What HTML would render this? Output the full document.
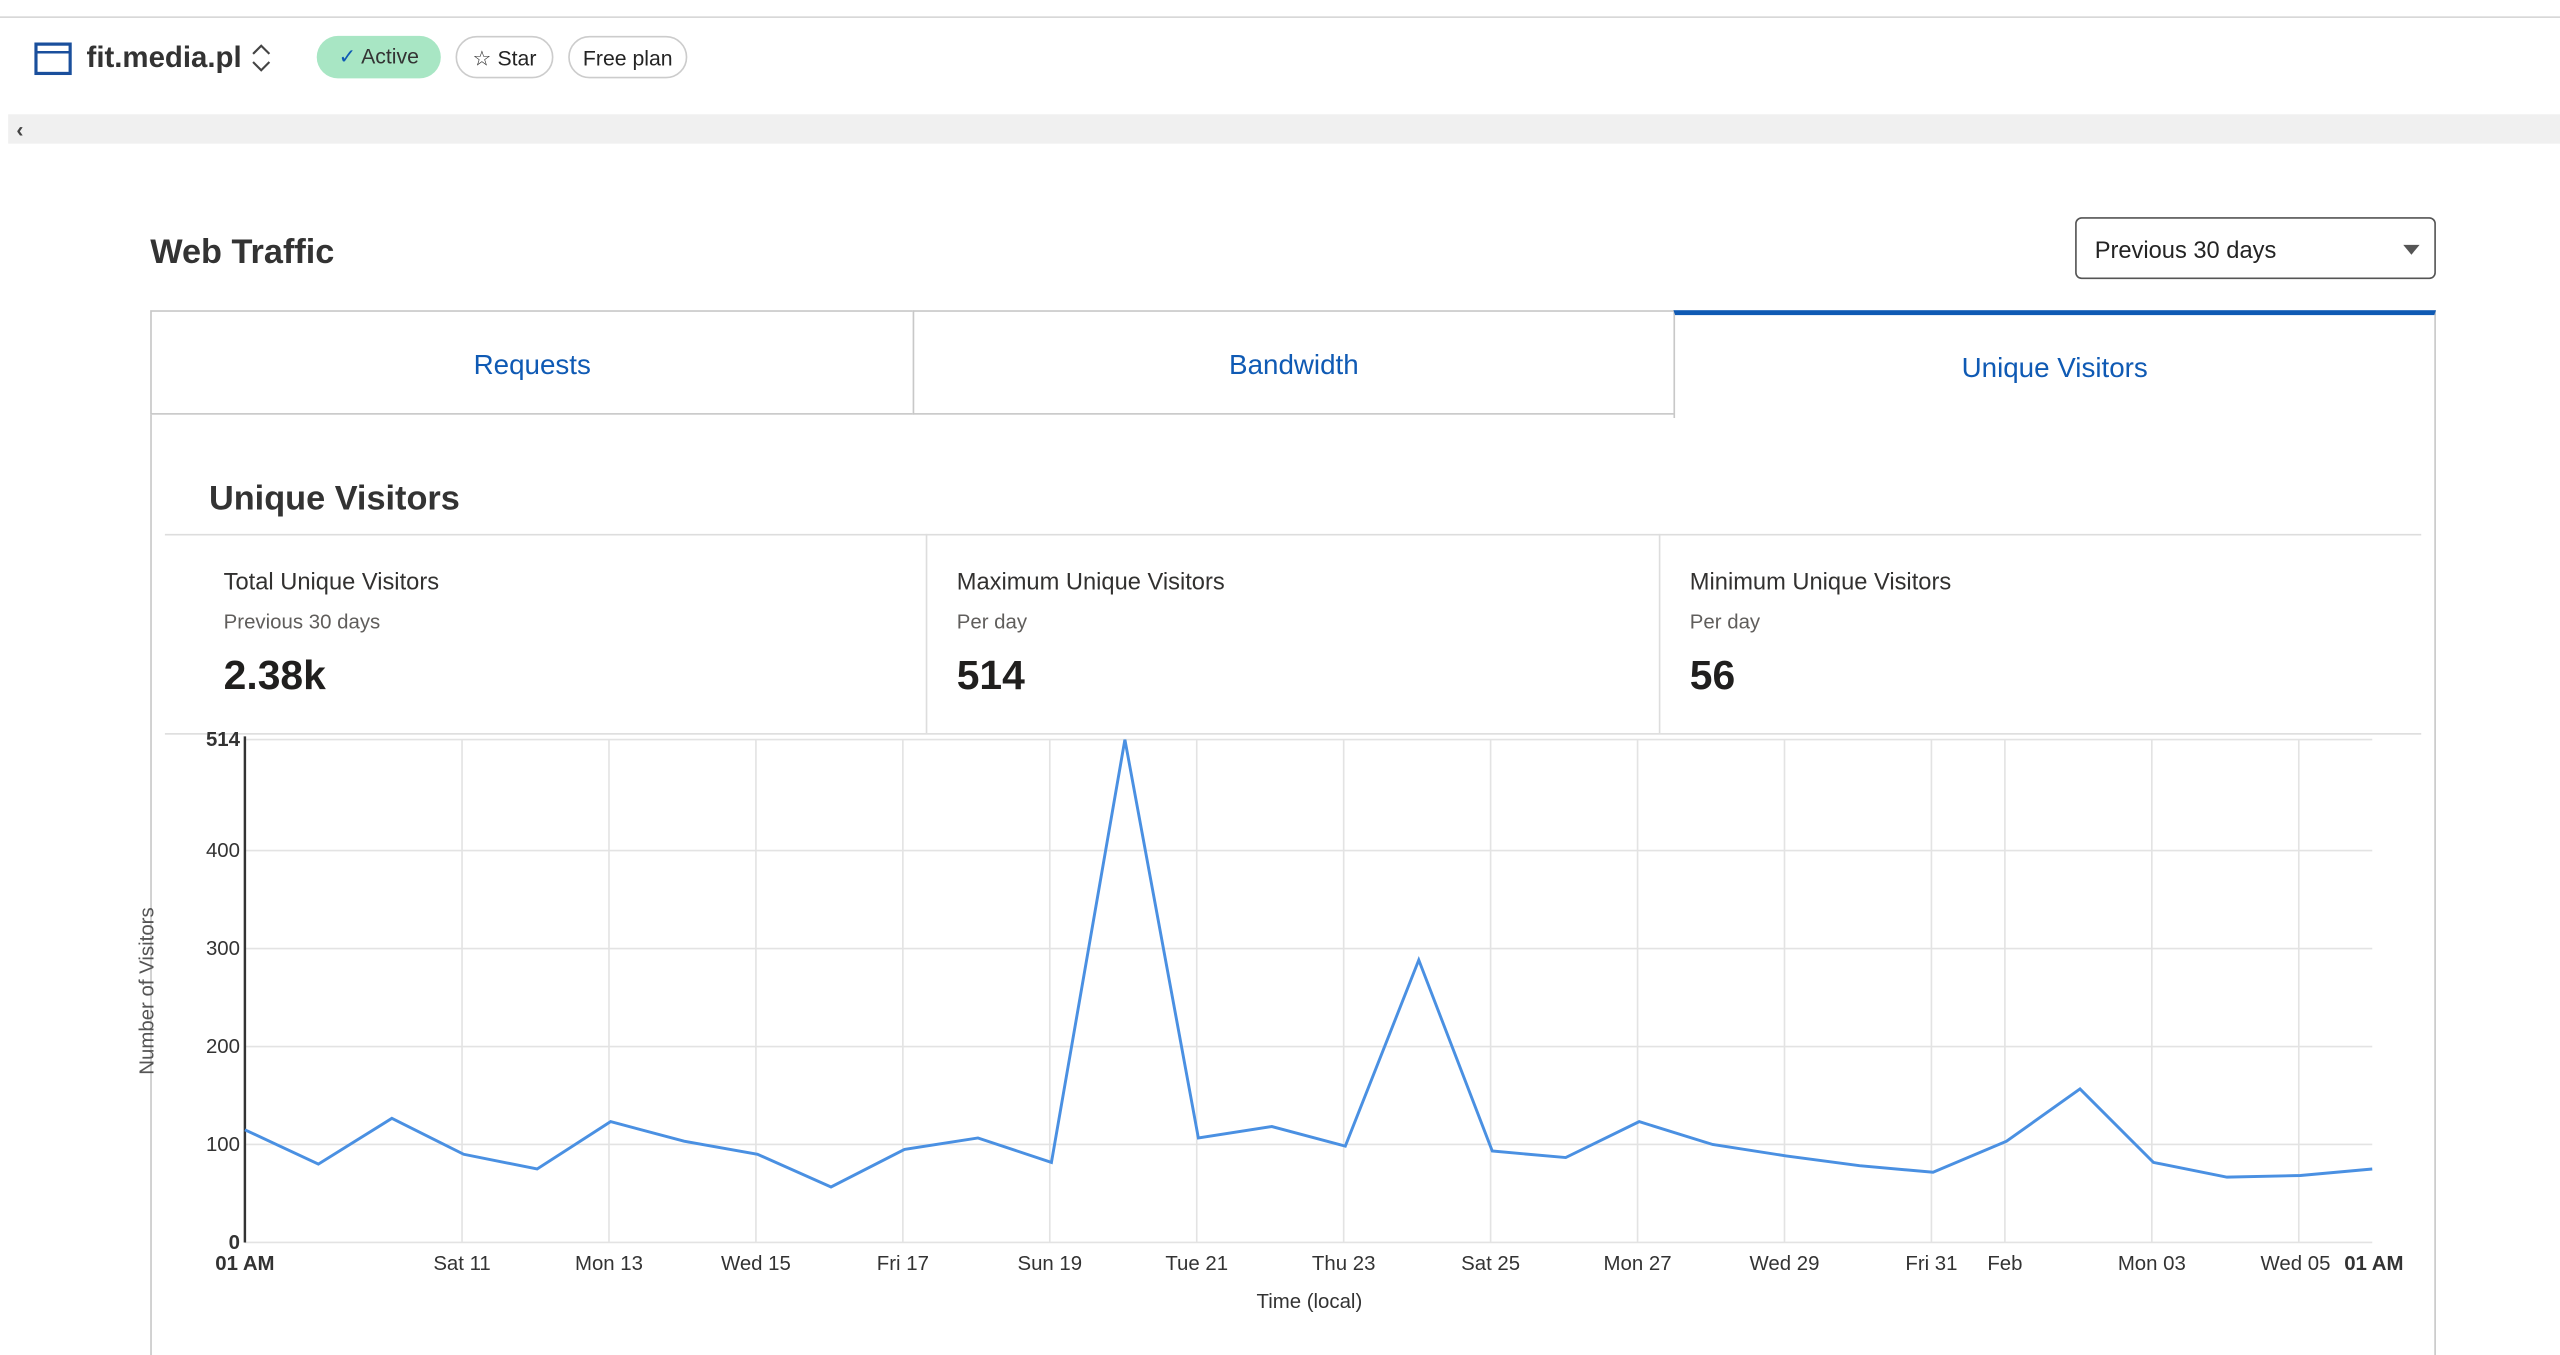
<!DOCTYPE html>
<html><head><meta charset="utf-8"><style>
html,body{margin:0;padding:0;background:#fff;overflow:hidden}
body{width:2560px;height:1327px}
#w{position:absolute;left:0;top:0;width:1568px;height:813px;transform:scale(1.63265);transform-origin:0 0;font-family:"Liberation Sans",sans-serif;color:#242424}
.a{position:absolute}
.pill{position:absolute;height:26px;border-radius:13px;font-size:13px;line-height:26px;text-align:center;box-sizing:border-box}
.tab{position:absolute;top:190px;height:64px;border:1px solid #c8c8c8;box-sizing:border-box;color:#0f5ab4;font-size:17px;text-align:center;line-height:66px;background:#fff}
.lab{font-size:14.5px;color:#323130}
.sub{font-size:12.5px;color:#605e5c}
.val{font-size:25px;font-weight:bold;color:#201f1e}
</style></head><body><div id="w">
<div class="a" style="left:0;top:10px;width:1568px;height:1px;background:#d6d6d6"></div>
<svg class="a" style="left:21px;top:26px" width="23" height="20"><rect x="1" y="1" width="21" height="18" fill="none" stroke="#1a4f9c" stroke-width="2"/><line x1="1" y1="6" x2="22" y2="6" stroke="#1a4f9c" stroke-width="1.5"/></svg>
<div class="a" style="left:53px;top:25px;font-size:18px;font-weight:bold;color:#333">fit.media.pl</div>
<svg class="a" style="left:153px;top:26px" width="14" height="19"><polyline points="2,7 7,2 12,7" fill="none" stroke="#444" stroke-width="1.3"/><polyline points="2,12 7,17 12,12" fill="none" stroke="#444" stroke-width="1.3"/></svg>
<div class="pill" style="left:194px;top:22px;width:76px;background:#a8e6c4;color:#333"><span style="color:#0f5ab4">✓</span> Active</div>
<div class="pill" style="left:279px;top:22px;width:60px;border:1px solid #ccc">☆ Star</div>
<div class="pill" style="left:348px;top:22px;width:73px;border:1px solid #ccc">Free plan</div>
<div class="a" style="left:5px;top:70px;width:1563px;height:18px;background:#f0f0f0"></div>
<div class="a" style="left:10px;top:72px;font-size:13px;font-weight:bold;color:#444">‹</div>
<div class="a" style="left:92px;top:143px;font-size:21px;font-weight:bold;color:#333">Web Traffic</div>
<div class="a" style="left:1271px;top:133px;width:221px;height:38px;border:1px solid #555;border-radius:4px;box-sizing:border-box"></div>
<div class="a" style="left:1283px;top:146px;font-size:14.5px">Previous 30 days</div>
<div class="a" style="left:1472px;top:150px;width:0;height:0;border-left:5px solid transparent;border-right:5px solid transparent;border-top:6px solid #555"></div>
<div class="a" style="left:92px;top:190px;width:1400px;height:640px;border-left:1px solid #c8c8c8;border-right:1px solid #c8c8c8;box-sizing:border-box"></div>
<div class="tab" style="left:92px;width:468px">Requests</div>
<div class="tab" style="left:559px;width:467px">Bandwidth</div>
<div class="tab" style="left:1025px;width:467px;border-top:3px solid #0f5ab4;border-bottom:none;line-height:66px;height:66px">Unique Visitors</div>
<div class="a" style="left:128px;top:294px;font-size:21px;font-weight:bold;color:#333">Unique Visitors</div>
<div class="a" style="left:101px;top:327px;width:1382px;height:1px;background:#ddd"></div>
<div class="a" style="left:101px;top:449px;width:1382px;height:1px;background:#ddd"></div>
<div class="a" style="left:567px;top:327px;width:1px;height:122px;background:#ddd"></div>
<div class="a" style="left:1016px;top:327px;width:1px;height:122px;background:#ddd"></div>
<div class="a lab" style="left:137px;top:349px">Total Unique Visitors</div>
<div class="a sub" style="left:137px;top:374px">Previous 30 days</div>
<div class="a val" style="left:137px;top:400px">2.38k</div>
<div class="a lab" style="left:586px;top:349px">Maximum Unique Visitors</div>
<div class="a sub" style="left:586px;top:374px">Per day</div>
<div class="a val" style="left:586px;top:400px">514</div>
<div class="a lab" style="left:1035px;top:349px">Minimum Unique Visitors</div>
<div class="a sub" style="left:1035px;top:374px">Per day</div>
<div class="a val" style="left:1035px;top:400px">56</div>
<svg class="a" style="left:0;top:0" width="1568" height="813" font-family="Liberation Sans, sans-serif" font-size="12.5" fill="#333">
<g stroke="#e3e3e3" stroke-width="1">
<line x1="150" y1="701" x2="1453" y2="701"/><line x1="150" y1="641" x2="1453" y2="641"/><line x1="150" y1="581" x2="1453" y2="581"/><line x1="150" y1="521" x2="1453" y2="521"/><line x1="150" y1="453" x2="1453" y2="453"/><line x1="150" y1="761" x2="1453" y2="761"/>
<line x1="283" y1="453" x2="283" y2="761"/><line x1="373" y1="453" x2="373" y2="761"/><line x1="463" y1="453" x2="463" y2="761"/><line x1="553" y1="453" x2="553" y2="761"/><line x1="643" y1="453" x2="643" y2="761"/><line x1="733" y1="453" x2="733" y2="761"/><line x1="823" y1="453" x2="823" y2="761"/><line x1="913" y1="453" x2="913" y2="761"/><line x1="1003" y1="453" x2="1003" y2="761"/><line x1="1093" y1="453" x2="1093" y2="761"/><line x1="1183" y1="453" x2="1183" y2="761"/><line x1="1228" y1="453" x2="1228" y2="761"/><line x1="1318" y1="453" x2="1318" y2="761"/><line x1="1408" y1="453" x2="1408" y2="761"/>
</g>
<line x1="150" y1="451" x2="150" y2="761" stroke="#333" stroke-width="1.5"/>
<polyline fill="none" stroke="#4a90e2" stroke-width="1.8" points="150,692 195,713 240,685 284,707 329,716 374,687 419,699 464,707 509,727 554,704 599,697 644,712 689,453 734,697 779,690 824,702 869,588 914,705 959,709 1004,687 1049,701 1094,708 1139,714 1184,718 1229,699 1274,667 1319,712 1364,721 1409,720 1453,716"/>
<g text-anchor="end"><text x="147" y="457" font-weight="bold">514</text><text x="147" y="525">400</text><text x="147" y="585">300</text><text x="147" y="645">200</text><text x="147" y="705">100</text><text x="147" y="765" font-weight="bold">0</text></g>
<g text-anchor="middle"><text x="150" y="778" font-weight="bold">01 AM</text><text x="283" y="778">Sat 11</text><text x="373" y="778">Mon 13</text><text x="463" y="778">Wed 15</text><text x="553" y="778">Fri 17</text><text x="643" y="778">Sun 19</text><text x="733" y="778">Tue 21</text><text x="823" y="778">Thu 23</text><text x="913" y="778">Sat 25</text><text x="1003" y="778">Mon 27</text><text x="1093" y="778">Wed 29</text><text x="1183" y="778">Fri 31</text><text x="1228" y="778">Feb</text><text x="1318" y="778">Mon 03</text><text x="1406" y="778">Wed 05</text><text x="1454" y="778" font-weight="bold">01 AM</text>
<text x="802" y="801">Time (local)</text>
<text transform="translate(94,607) rotate(-90)" fill="#555">Number of Visitors</text></g>
</svg>
</div></body></html>
